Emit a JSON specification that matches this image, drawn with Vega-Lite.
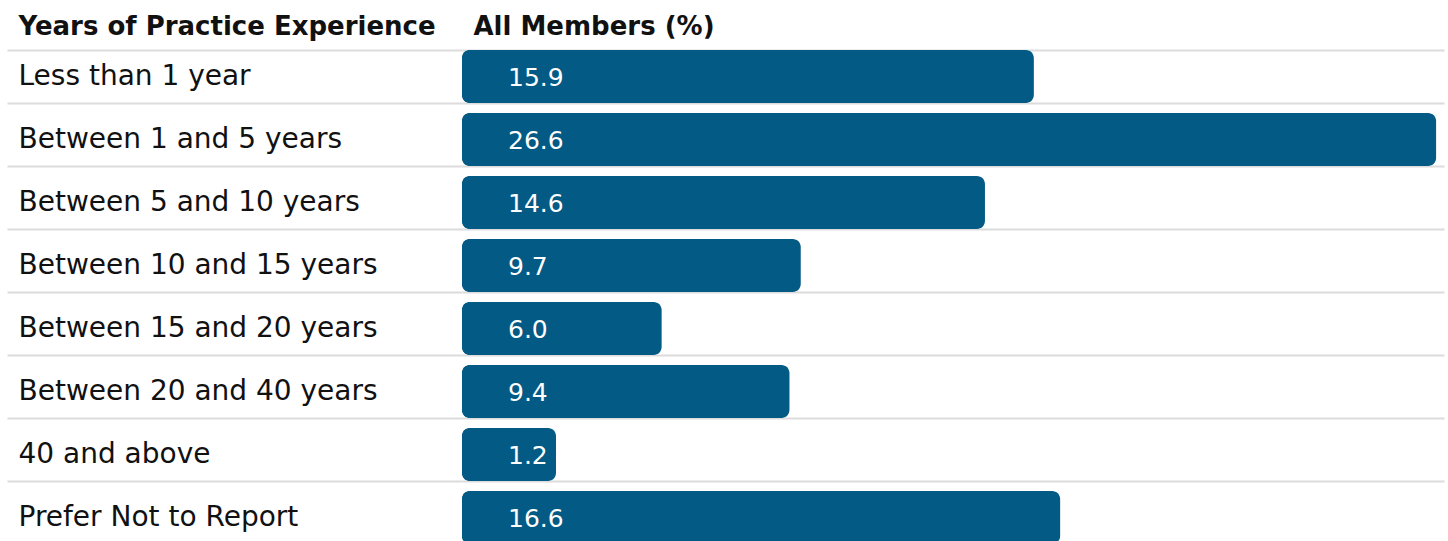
{
  "$schema": "https://vega.github.io/schema/vega-lite/v6.json",
  "width": 982,
  "height": 496,
  "autosize": {"type": "none"},
  "padding": {"left": 462, "top": 45, "right": 4, "bottom": 0},
  "background": "white",
  "data": {
    "values": [
      {"category": "Less than 1 year", "value": 15.9},
      {"category": "Between 1 and 5 years", "value": 26.6},
      {"category": "Between 5 and 10 years", "value": 14.6},
      {"category": "Between 10 and 15 years", "value": 9.7},
      {"category": "Between 15 and 20 years", "value": 6.0},
      {"category": "Between 20 and 40 years", "value": 9.4},
      {"category": "40 and above", "value": 1.2},
      {"category": "Prefer Not to Report", "value": 16.6}
    ]
  },
  "encoding": {
    "y": {
      "field": "category",
      "type": "nominal",
      "sort": null,
      "scale": {"range": [0, 504], "paddingInner": 0.16, "paddingOuter": 0.08},
      "axis": {
        "title": "Years of Practice Experience",
        "titleAngle": 0,
        "titleAlign": "left",
        "titleAnchor": "start",
        "titleBaseline": "alphabetic",
        "titleX": -444,
        "titleY": -11,
        "titleFont": "DejaVu Sans",
        "titleFontSize": 26,
        "titleFontWeight": "bold",
        "titleColor": "#111111",
        "labelAlign": "left",
        "labelPadding": -11,
        "labelFont": "DejaVu Sans",
        "labelFontSize": 28,
        "labelColor": "#111111",
        "labelBaseline": "middle",
        "labelLimit": 0,
        "tickBand": "extent",
        "tickSize": 455,
        "tickColor": "#dcdcdc",
        "tickWidth": 2,
        "grid": true,
        "gridColor": "#dcdcdc",
        "gridWidth": 2,
        "gridOpacity": 1,
        "domain": false
      }
    }
  },
  "layer": [
    {
      "mark": {"type": "bar", "color": "#035a84", "cornerRadius": 8},
      "encoding": {
        "x": {"datum": 0.69},
        "x2": {"datum": 3.19}
      }
    },
    {
      "mark": {"type": "bar", "color": "#035a84", "cornerRadius": 8},
      "encoding": {
        "x": {
          "field": "value",
          "type": "quantitative",
          "scale": {"domain": [0.69, 26.81], "nice": false, "zero": false},
          "axis": {
            "orient": "top",
            "title": "All Members (%)",
            "labels": false,
            "ticks": false,
            "domain": false,
            "grid": false,
            "titleAlign": "left",
            "titleAnchor": "start",
            "titleX": 11,
            "titleY": -11,
            "titleBaseline": "alphabetic",
            "titleFont": "DejaVu Sans",
            "titleFontSize": 26,
            "titleFontWeight": "bold",
            "titleColor": "#111111"
          }
        },
        "x2": {"datum": 0.69}
      }
    },
    {
      "mark": {"type": "text", "align": "left", "dx": 46, "dy": 1, "color": "white", "fontSize": 25, "font": "DejaVu Sans", "baseline": "middle"},
      "encoding": {
        "x": {"datum": 0.69},
        "text": {"field": "value", "type": "quantitative", "format": ".1f"}
      }
    }
  ],
  "config": {"view": {"stroke": null}}
}
